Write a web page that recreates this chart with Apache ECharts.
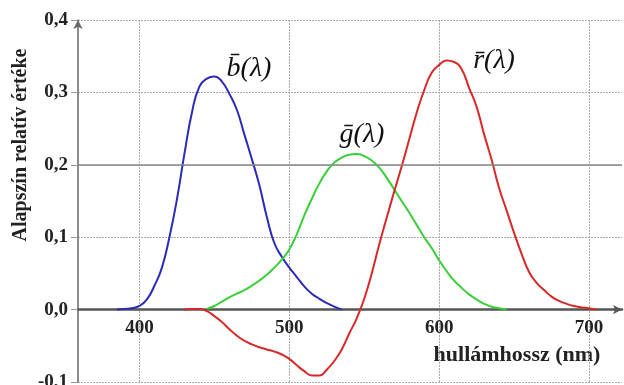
<!DOCTYPE html>
<html>
<head>
<meta charset="utf-8">
<script src="https://cdn.jsdelivr.net/npm/echarts@6/dist/echarts.min.js"></script>
<style>
  html, body { margin: 0; padding: 0; background: #fff; }
  #chart { width: 624px; height: 385px; }
</style>
</head>
<body>
<div id="chart"></div>
<script>
// hullámhossz (nm)
var wavelengths = [
  385, 390, 395, 400, 405, 410, 415, 420, 425, 430, 435, 440, 445, 450, 455, 460, 465, 470, 475, 480,
  485, 490, 495, 500, 505, 510, 515, 520, 525, 530, 535, 540, 545, 550, 555, 560, 565, 570, 575, 580,
  585, 590, 595, 600, 605, 610, 615, 620, 625, 630, 635, 640, 645, 650, 655, 660, 665, 670, 675, 680,
  685, 690, 695, 700, 705
];
var bValues = [
  0, 0.001, 0.002, 0.005, 0.014, 0.033, 0.058, 0.100, 0.152, 0.215, 0.272, 0.308, 0.319, 0.322, 0.315, 0.298, 0.276, 0.242, 0.208, 0.172,
  0.128, 0.092, 0.073, 0.058, 0.045, 0.032, 0.022, 0.015, 0.009, 0.004, 0, null, null, null, null, null, null, null, null, null,
  null, null, null, null, null, null, null, null, null, null, null, null, null, null, null, null, null, null, null, null,
  null, null, null, null, null
];
var gValues = [
  null, null, null, null, null, null, null, null, null, null, null, null, 0.001, 0.005, 0.011, 0.017, 0.022, 0.027, 0.033, 0.040,
  0.048, 0.058, 0.069, 0.083, 0.104, 0.130, 0.153, 0.174, 0.191, 0.203, 0.210, 0.214, 0.215, 0.212, 0.206, 0.196, 0.182, 0.166, 0.150, 0.134,
  0.117, 0.100, 0.085, 0.068, 0.053, 0.040, 0.030, 0.021, 0.014, 0.008, 0.004, 0.002, 0, null, null, null, null, null, null, null,
  null, null, null, null, null
];
var rValues = [
  null, null, null, null, null, null, null, null, null, 0, 0.001, 0.001, -0.002, -0.009, -0.017, -0.027, -0.036, -0.043, -0.048, -0.052,
  -0.055, -0.058, -0.062, -0.068, -0.077, -0.085, -0.091, -0.091, -0.083, -0.071, -0.055, -0.033, -0.012, 0.015, 0.050, 0.090, 0.127, 0.163, 0.198, 0.235,
  0.272, 0.303, 0.327, 0.338, 0.344, 0.342, 0.332, 0.306, 0.280, 0.242, 0.207, 0.168, 0.137, 0.106, 0.077, 0.052, 0.037, 0.027, 0.018, 0.012,
  0.008, 0.005, 0.003, 0.002, 0
];
var xTicks = [400, 500, 600, 700];

var serif = "'Liberation Serif', 'DejaVu Serif', serif";

function pairs(vals) {
  return wavelengths.map(function (w, i) { return [w, vals[i]]; });
}

var gridTop = 20, gridBottom = 3, yMin = -0.1, yMax = 0.4;
var plotH = 385 - gridTop - gridBottom;
// shift the x axis from the grid bottom up to the 0,0 line
var zeroOffset = -plotH * (0 - yMin) / (yMax - yMin);

var chart = echarts.init(document.getElementById('chart'));
var option = {
  animation: false,
  backgroundColor: '#fff',
  grid: { left: 78, right: 2, top: gridTop, bottom: gridBottom, containLabel: false, outerBoundsMode: 'none' },
  xAxis: {
    type: 'value',
    position: 'bottom',
    offset: zeroOffset,
    min: 359,
    max: 722,
    axisLine: {
      onZero: false,
      symbol: ['none', 'arrow'],
      symbolSize: [7, 9],
      lineStyle: { color: '#555', width: 2.5 }
    },
    axisTick: { show: false },
    axisLabel: {
      margin: 9,
      fontFamily: serif,
      fontWeight: 'bold',
      fontSize: 19,
      color: '#222',
      showMinLabel: false,
      showMaxLabel: false,
      formatter: function (v) { return xTicks.indexOf(v) >= 0 ? String(v) : ''; }
    },
    splitLine: {
      show: true,
      showMinLine: false,
      showMaxLine: false,
      lineStyle: { color: '#aaa', type: [2, 1], width: 1 }
    }
  },
  yAxis: {
    type: 'value',
    min: yMin,
    max: yMax,
    interval: 0.1,
    axisLine: {
      show: true,
      symbol: ['none', 'arrow'],
      symbolSize: [7, 9],
      lineStyle: { color: '#666', width: 1.5 }
    },
    axisTick: { show: true, length: 7, lineStyle: { color: '#999' } },
    axisLabel: {
      margin: 10,
      fontFamily: serif,
      fontWeight: 'bold',
      fontSize: 19,
      color: '#222',
      formatter: function (v) { return v.toFixed(1).replace('.', ','); }
    },
    splitLine: {
      show: true,
      lineStyle: { color: '#aaa', type: [2, 1], width: 1 }
    }
  },
  graphic: [
    {
      type: 'text',
      x: 21, y: 145,
      rotation: Math.PI / 2,
      style: {
        text: 'Alapszín relatív értéke',
        font: 'bold 20px ' + serif,
        fill: '#222',
        align: 'center',
        verticalAlign: 'middle'
      }
    },
    {
      type: 'text',
      x: 517, y: 355,
      style: {
        text: 'hullámhossz (nm)',
        font: 'bold 22px ' + serif,
        fill: '#222',
        align: 'center',
        verticalAlign: 'middle'
      }
    },
    {
      type: 'text', x: 249, y: 69,
      style: { text: 'b\u0304(λ)', font: 'italic 28px ' + serif, fill: '#111', align: 'center', verticalAlign: 'middle' }
    },
    {
      type: 'text', x: 362, y: 135,
      style: { text: 'g\u0304(λ)', font: 'italic 28px ' + serif, fill: '#111', align: 'center', verticalAlign: 'middle' }
    },
    {
      type: 'text', x: 494, y: 61,
      style: { text: 'r\u0304(λ)', font: 'italic 28px ' + serif, fill: '#111', align: 'center', verticalAlign: 'middle' }
    }
  ],
  series: [
    {
      name: 'b',
      type: 'line',
      data: pairs(bValues),
      smooth: 0.5,
      showSymbol: false,
      lineStyle: { color: '#2b2bb8', width: 2 },
      markLine: {
        silent: true,
        symbol: 'none',
        label: { show: false },
        lineStyle: { color: '#888', type: 'solid', width: 1.5 },
        data: [{ yAxis: 0.2 }]
      },
      z: 3
    },
    {
      name: 'g',
      type: 'line',
      data: pairs(gValues),
      smooth: 0.5,
      showSymbol: false,
      lineStyle: { color: '#38d038', width: 2 },
      z: 3
    },
    {
      name: 'r',
      type: 'line',
      data: pairs(rValues),
      smooth: 0.5,
      showSymbol: false,
      lineStyle: { color: '#d82828', width: 2 },
      z: 3
    }
  ]
};
chart.setOption(option);
</script>
</body>
</html>
